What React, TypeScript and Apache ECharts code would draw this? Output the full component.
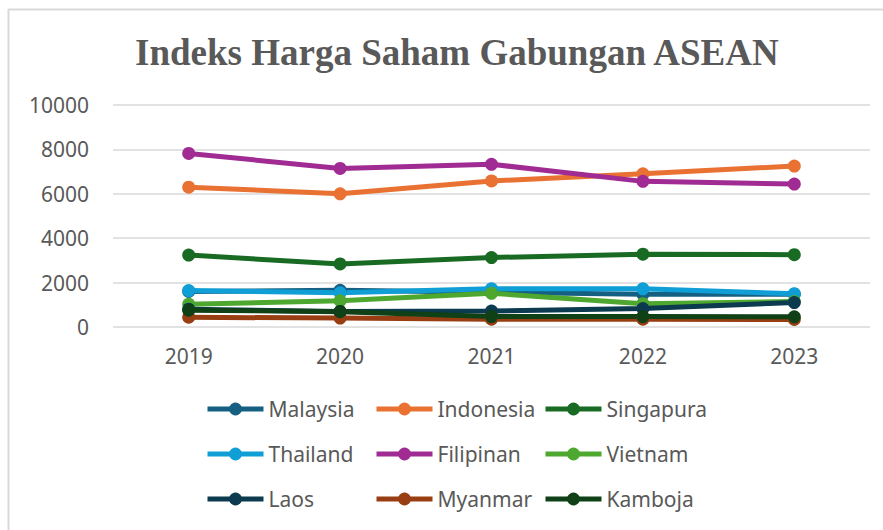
import React, { useEffect, useRef } from "react";
import * as echarts from "echarts";

const years = ["2019", "2020", "2021", "2022", "2023"];
const seriesNames = ["Malaysia", "Indonesia", "Singapura", "Thailand", "Filipinan", "Vietnam", "Laos", "Myanmar", "Kamboja"];
const malaysia = [1600, 1650, 1560, 1480, 1470];
const indonesia = [6300, 6000, 6580, 6900, 7250];
const singapura = [3240, 2840, 3130, 3280, 3260];
const thailand = [1640, 1540, 1720, 1720, 1500];
const filipinan = [7820, 7140, 7330, 6560, 6440];
const vietnam = [1030, 1180, 1520, 1050, 1150];
const laos = [800, 700, 720, 830, 1100];
const myanmar = [440, 400, 350, 350, 340];
const kamboja = [760, 690, 470, 470, 460];
const yTicks = [0, 2000, 4000, 6000, 8000, 10000];

const values = [malaysia, indonesia, singapura, thailand, filipinan, vietnam, laos, myanmar, kamboja];
const colors = ["#156082", "#E97132", "#196B24", "#0F9ED5", "#A02B93", "#4EA72E", "#0C3A4E", "#983E12", "#0F4016"];

const legendCols = [
  ["Malaysia", "Thailand", "Laos"],
  ["Indonesia", "Filipinan", "Myanmar"],
  ["Singapura", "Vietnam", "Kamboja"],
];
const legendLefts = [205, 374, 543];

export default function App() {
  const ref = useRef<HTMLDivElement>(null);
  useEffect(() => {
    document.body.style.margin = "0";
    const chart = echarts.init(ref.current!, null, { renderer: "svg" });
    const font = "Noto Sans";
    chart.setOption({
      animation: false,
      backgroundColor: "#ffffff",
      color: colors,
      title: {
        text: "Indeks Harga Saham Gabungan ASEAN",
        left: 130,
        top: 29,
        textStyle: {
          fontFamily: "Liberation Serif",
          fontWeight: "bold",
          fontSize: 37,
          color: "#595959",
        },
      },
      graphic: [
        { type: "line", shape: { x1: 8.5, y1: 9, x2: 8.5, y2: 530 }, style: { stroke: "#d9d9d9", lineWidth: 2 } },
        { type: "line", shape: { x1: 8, y1: 9.5, x2: 883, y2: 9.5 }, style: { stroke: "#d9d9d9", lineWidth: 2 } },
      ],
      legend: legendCols.map((col, i) => ({
        data: col,
        orient: "vertical",
        left: legendLefts[i],
        top: 397,
        padding: 0,
        itemWidth: 56,
        itemHeight: 16,
        itemGap: 21,
        lineStyle: { width: 5 },
        textStyle: { fontFamily: font, fontSize: 21, color: "#595959", lineHeight: 24 },
      })),
      grid: { left: 113, right: 13, top: 105, bottom: 203 },
      xAxis: {
        type: "category",
        data: years,
        axisLine: { show: false },
        axisTick: { show: false },
        axisLabel: { fontFamily: font, fontSize: 21, color: "#595959", margin: 18 },
      },
      yAxis: {
        type: "value",
        min: yTicks[0],
        max: yTicks[yTicks.length - 1],
        interval: 2000,
        axisLine: { show: false },
        axisTick: { show: false },
        axisLabel: {
          fontFamily: font,
          fontSize: 21,
          color: "#595959",
          margin: 24,
          formatter: (v: number) => String(v),
        },
        splitLine: { lineStyle: { color: "#d9d9d9", width: 1.5 } },
      },
      series: seriesNames.map((name, i) => ({
        name,
        type: "line",
        data: values[i],
        symbol: "circle",
        symbolSize: 13,
        lineStyle: { width: 5, color: colors[i] },
        itemStyle: { color: colors[i] },
      })),
    });
    return () => chart.dispose();
  }, []);
  return <div ref={ref} style={{ width: 883, height: 530 }} />;
}
